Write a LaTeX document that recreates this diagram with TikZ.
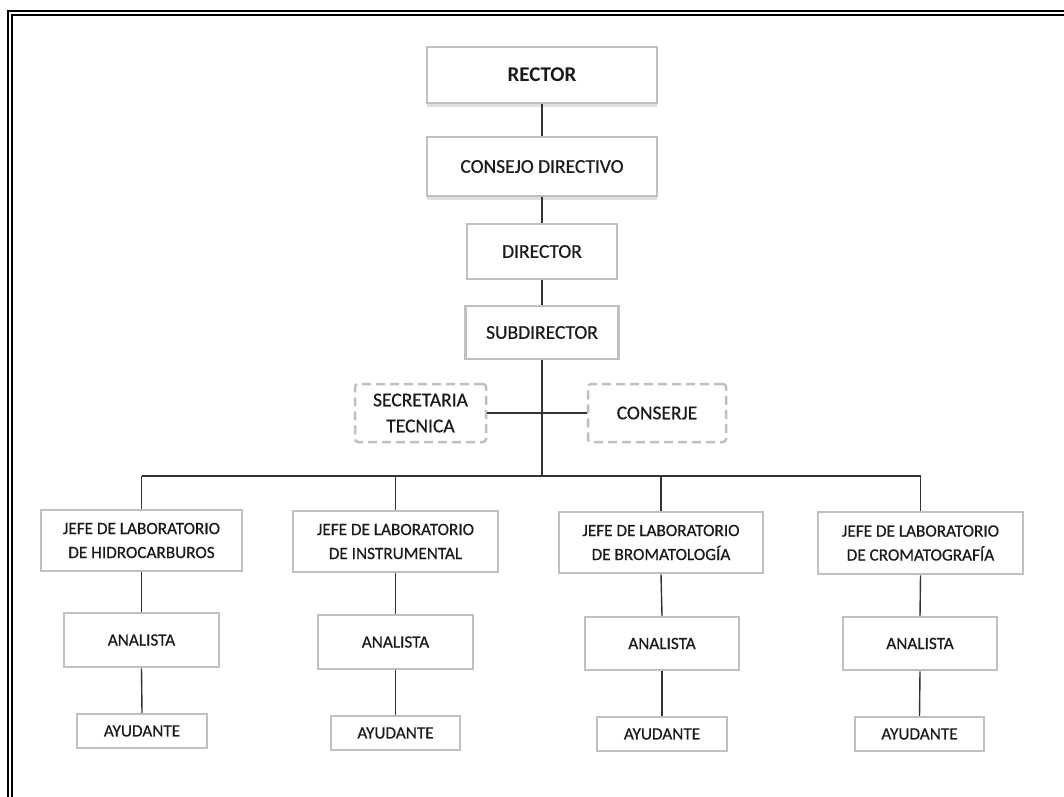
\documentclass[tikz,border=0pt]{standalone}
\usepackage{fontspec}
\setmainfont{Carlito}
\newfontfamily\boxfont{Carlito}[FakeBold=0.5]
\usetikzlibrary{shadows}
\definecolor{boxgray}{HTML}{BFBFBF}
\definecolor{linecol}{HTML}{333333}
\definecolor{txt}{HTML}{1A1A1A}
\tikzset{
  box/.style={draw=boxgray, line width=2.5pt, fill=white, text=txt, align=center, inner sep=0pt},
  upper/.style={box, font=\fontsize{19.5}{26}\selectfont\boxfont},
  lower/.style={box, font=\fontsize{17.2}{24}\selectfont\boxfont},
  dbox/.style={upper, dash pattern=on 9pt off 5pt, rounded corners=3pt},
  shad/.style={drop shadow={opacity=0.25, shadow xshift=0pt, shadow yshift=-4pt}},
  conn/.style={draw=linecol, line width=1.4pt},
  frame/.style={draw=black, line width=2.2pt},
}
\begin{document}
\begin{tikzpicture}[x=1pt,y=-1pt]
\useasboundingbox (0,0) rectangle (1064,796);
% double frame
\draw[frame] (8,800) -- (8,11) -- (1070,11);
\draw[frame] (12,800) -- (12,15) -- (1070,15);
% top chain
\node[upper, shad, minimum width=230pt, minimum height=56pt, font=\fontsize{21}{26}\selectfont\rmfamily\bfseries] (rector) at (542,75) {RECTOR};
\node[upper, shad, minimum width=230pt, minimum height=59pt] (consejo) at (542,166.5) {CONSEJO DIRECTIVO};
\node[upper, minimum width=150pt, minimum height=55pt] (director) at (542,251.5) {DIRECTOR};
\node[upper, minimum width=153pt, minimum height=53pt] (subdir) at (542,332.5) {SUBDIRECTOR};
\node[dbox, minimum width=131pt, minimum height=58pt] (secret) at (420.5,413) {SECRETARIA\\TECNICA};
\node[dbox, minimum width=138pt, minimum height=58pt] (conserje) at (657,413) {CONSERJE};
% labs
\node[lower, minimum width=201pt, minimum height=61pt] (l1) at (141.5,540.5) {JEFE DE LABORATORIO\\DE HIDROCARBUROS};
\node[lower, minimum width=155pt, minimum height=54pt] (a1) at (141.5,640) {ANALISTA};
\node[lower, minimum width=130pt, minimum height=34pt] (y1) at (142,731) {AYUDANTE};
\node[lower, minimum width=205pt, minimum height=61pt] (l2) at (395.5,541.5) {JEFE DE LABORATORIO\\DE INSTRUMENTAL};
\node[lower, minimum width=155pt, minimum height=54pt] (a2) at (395.5,642) {ANALISTA};
\node[lower, minimum width=129pt, minimum height=34pt] (y2) at (395.5,733) {AYUDANTE};
\node[lower, minimum width=204pt, minimum height=61pt] (l3) at (661,542.5) {JEFE DE LABORATORIO\\DE BROMATOLOGÍA};
\node[lower, minimum width=154pt, minimum height=53pt] (a3) at (662,643.5) {ANALISTA};
\node[lower, minimum width=130pt, minimum height=34pt] (y3) at (662,734) {AYUDANTE};
\node[lower, minimum width=205pt, minimum height=62pt] (l4) at (920.5,543) {JEFE DE LABORATORIO\\DE CROMATOGRAFÍA};
\node[lower, minimum width=154pt, minimum height=53pt] (a4) at (920,643.5) {ANALISTA};
\node[lower, minimum width=129pt, minimum height=34pt] (y4) at (919.5,734) {AYUDANTE};
% connectors
\coordinate (busC) at (542,476);
\draw[conn] (rector.south) -- (consejo.north);
\draw[conn] (consejo.south) -- (director.north);
\draw[conn] (director.south) -- (subdir.north);
\draw[conn] (subdir.south) -- (busC);
\draw[conn] (secret.east) -- (conserje.west);
\draw[conn] (l1.north |- busC) -- (l4.north |- busC);
\foreach \l in {l1,l2,l3,l4} {\draw[conn] (\l.north |- busC) -- (\l.north);}
\draw[conn] (l1.south) -- (a1.north);
\draw[conn] (a1.south) -- (y1.north);
\draw[conn] (l2.south) -- (a2.north);
\draw[conn] (a2.south) -- (y2.north);
\draw[conn] (l3.south) -- (a3.north);
\draw[conn] (a3.south) -- (y3.north);
\draw[conn] (l4.south) -- (a4.north);
\draw[conn] (a4.south) -- (y4.north);
\end{tikzpicture}
\end{document}
